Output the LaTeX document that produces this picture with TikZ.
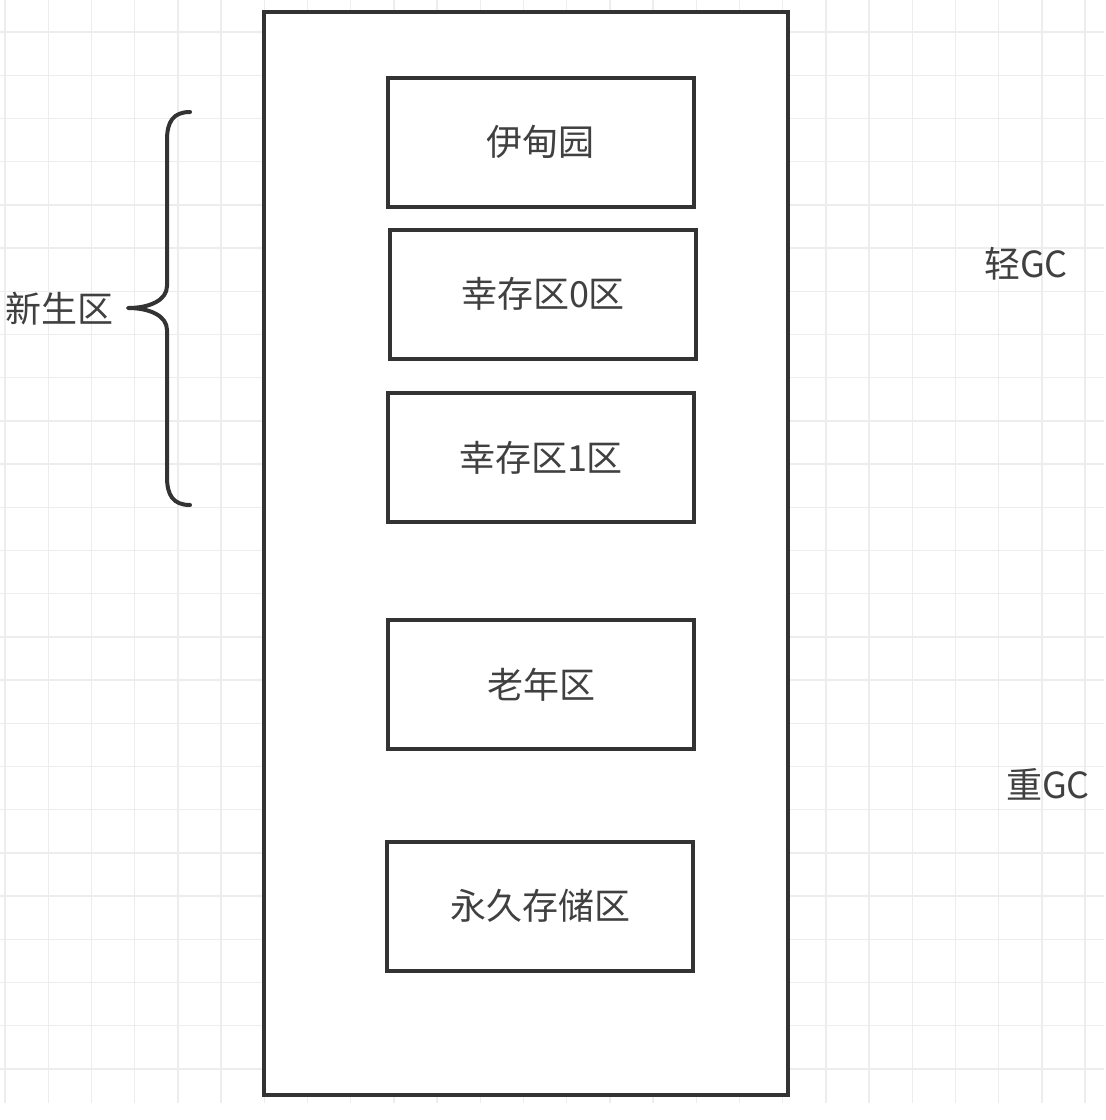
\documentclass[tikz,border=0pt]{standalone}
\usepackage{fontspec}
\setmainfont{Noto Sans CJK SC}
\begin{document}
\begin{tikzpicture}[x=1pt,y=-1pt,
  gridline/.style={draw=black!7, line width=1.4pt},
  outerbox/.style={draw=black!80, line width=4pt, fill=white},
  zone/.style={draw=black!80, line width=4pt, fill=white, rectangle, inner sep=0pt,
    minimum width=306pt, minimum height=129pt, text=black!75,
    font=\fontsize{36}{42}\selectfont},
  lbl/.style={text=black!75, inner sep=0pt, font=\fontsize{36}{42}\selectfont},
  bracepath/.style={draw=black!80, line width=4pt, line cap=round, line join=round}]
\useasboundingbox (0,0) rectangle (1106,1120);
\fill[white] (0,0) rectangle (1106,1120);
% grid
\foreach \i in {0,...,25} \draw[gridline] (5+43.2*\i,0) -- (5+43.2*\i,1103);
\foreach \j in {0,...,24} \draw[gridline] (0,32+43.2*\j) -- (1104,32+43.2*\j);
% heap
\node[outerbox, rectangle, inner sep=0pt, minimum width=524pt, minimum height=1083pt] (heap) at (526,553.5) {};
\node[zone] (eden) at (540.5,142) {伊甸园};
\node[zone] (s0) at (543,294) {幸存区0区};
\node[zone] (s1) at (541,457.5) {幸存区1区};
\node[zone] (old) at (541,684.5) {老年区};
\node[zone] (perm) at (540,906) {永久存储区};
% brace
\coordinate (btop) at (190,112);
\coordinate (btip) at (128,308);
\coordinate (bbot) at (190,505);
\draw[bracepath] (btop) .. controls (173,112) and (167,122) .. (167,140) -- (167,286)
  .. controls (167,300) and (150,308) .. (btip)
  .. controls (150,308) and (167,316) .. (167,330) -- (167,477)
  .. controls (167,495) and (173,505) .. (bbot);
\node[lbl, anchor=east] (young) at (114,309) {新生区};
\node[lbl] (minor) at (1026,264) {轻GC};
\node[lbl] (major) at (1048,784) {重GC};
\end{tikzpicture}
\end{document}
